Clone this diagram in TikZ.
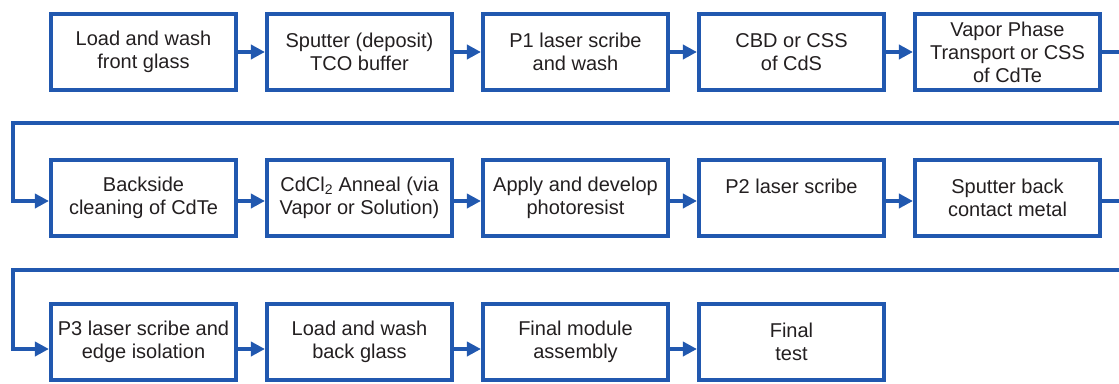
\documentclass[tikz,border=0pt]{standalone}
\usepackage{fontspec}
\setmainfont{Liberation Sans}
\usetikzlibrary{positioning, arrows.meta}

\definecolor{flowblue}{RGB}{33,88,175}
\definecolor{flowtext}{RGB}{35,31,32}

\tikzset{
	stepbox/.style={draw=flowblue, line width=3.6pt, minimum width=185.5pt, minimum height=76.5pt,
		inner sep=0pt, align=center, text=flowtext, font=\fontsize{20}{23}\selectfont},
	flow/.style={draw=flowblue, line width=3.6pt},
}

\begin{document}
\begin{tikzpicture}[x=1pt,y=1pt,node distance=216pt,on grid,>={Triangle[length=14pt,width=14pt]}]

\useasboundingbox (0,0) rectangle (1119,-383);

% Row 1
	\node (front_glass)	[stepbox] at (143.5,-52)		{Load and wash\\front glass};
	\node (tco)			[stepbox, right=of front_glass]	{Sputter (deposit)\\TCO buffer};
	\node (p1)			[stepbox, right=of tco]			{P1 laser scribe\\and wash};
	\node (cds)			[stepbox, right=of p1]			{CBD or CSS\\of CdS};
	\node (cdte)		[stepbox, right=of cds]			{Vapor Phase\\Transport or CSS\\of CdTe};

% Row 2
	\node (back_clean)	[stepbox, below=146pt of front_glass]	{Backside\\cleaning of CdTe};
	\node (anneal)		[stepbox, right=of back_clean]		{CdCl\textsubscript{2} Anneal (via\\Vapor or Solution)};
	\node (resist)		[stepbox, right=of anneal]			{Apply and develop\\photoresist};
	\node (p2)			[stepbox, right=of resist]			{P2 laser scribe\\~};
	\node (back_metal)	[stepbox, right=of p2]				{Sputter back\\contact metal};

% Row 3
	\node (p3)			[stepbox, below=144pt of back_clean]	{P3 laser scribe and\\edge isolation};
	\node (back_glass)	[stepbox, right=of p3]				{Load and wash\\back glass};
	\node (assembly)	[stepbox, right=of back_glass]		{Final module\\assembly};
	\node (final_test)	[stepbox, right=of assembly]		{Final\\test};

% Return lines (cut at the picture edge)
	\coordinate (edge) at (1119,0);
	\coordinate (ret1_r) at (1119,-123);
	\coordinate (ret1_l) at (13,-123);
	\coordinate (ret2_r) at (1119,-270);
	\coordinate (ret2_l) at (13,-270);

% Arrows within each row
	\foreach \a/\b in {front_glass/tco, tco/p1, p1/cds, cds/cdte}
		\draw[flow,->] (\a.east) -- (\b.west);
	\foreach \a/\b in {back_clean/anneal, anneal/resist, resist/p2, p2/back_metal}
		\draw[flow,->] ([yshift=-3pt]\a.east) -- ([yshift=-3pt]\b.west);
	\foreach \a/\b in {p3/back_glass, back_glass/assembly, assembly/final_test}
		\draw[flow,->] ([yshift=-7pt]\a.east) -- ([yshift=-7pt]\b.west);

	\draw[flow] (cdte.east) -- (cdte.east -| edge);
	\draw[flow] ([yshift=-3pt]back_metal.east) -- ([yshift=-3pt]back_metal.east -| edge);
	\draw[flow,->] (ret1_r) -- (ret1_l) |- ([yshift=-3pt]back_clean.west);
	\draw[flow,->] (ret2_r) -- (ret2_l) |- ([yshift=-7pt]p3.west);

\end{tikzpicture}
\end{document}
